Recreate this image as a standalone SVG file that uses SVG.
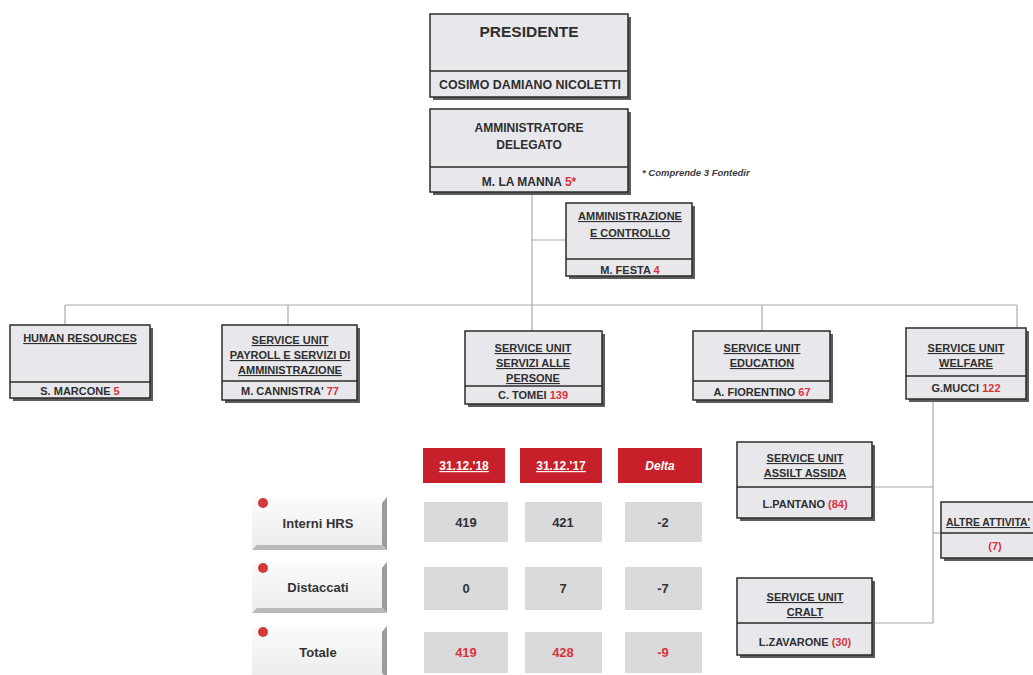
<svg xmlns="http://www.w3.org/2000/svg" width="1033" height="675" viewBox="0 0 1033 675">
<defs>
<style>
.bg{fill:#ffffff}
.sh{fill:#5c5c5c}
.box{fill:#e8e8ec;stroke:#2b2b2b;stroke-width:1.5}
.dv{stroke:#2b2b2b;stroke-width:1.3;fill:none}
.t{font-family:"Liberation Sans",Arial,sans-serif;font-weight:bold;font-size:11px;fill:#2e2e2e;text-anchor:middle}
.u{text-decoration:underline}
.conn{stroke:#a9a9a9;stroke-width:1.2;fill:none}
.hd{fill:#c8202b}
.ht{font-family:"Liberation Sans",Arial,sans-serif;font-weight:bold;font-size:12px;fill:#ffffff;text-anchor:middle}
.cell{fill:#dadadd}
.num{font-family:"Liberation Sans",Arial,sans-serif;font-weight:bold;font-size:13px;fill:#333333;text-anchor:middle}
.face{fill:url(#btn)}
.bvr{fill:#9c9c9c}
.bvb{fill:#b9b9b9}
.bl{font-family:"Liberation Sans",Arial,sans-serif;font-weight:bold;font-size:13px;fill:#333333;text-anchor:middle}
.dot{fill:#d23a3a}
.r{fill:#d8323c}
</style>
<linearGradient id="btn" x1="0" y1="0" x2="0" y2="1">
<stop offset="0" stop-color="#fbfbfb"/>
<stop offset="1" stop-color="#ececec"/>
</linearGradient>
</defs>
<rect class="bg" x="0" y="0" width="1033" height="675"/>

<g id="connectors">
<path class="conn" d="M532 192 V331"/>
<path class="conn" d="M532 240 H566"/>
<path class="conn" d="M65 305 H1017"/>
<path class="conn" d="M65 305 V325"/>
<path class="conn" d="M288 305 V325"/>
<path class="conn" d="M762 305 V331"/>
<path class="conn" d="M1017 305 V328"/>
<path class="conn" d="M933 400 V623"/>
<path class="conn" d="M875 487 H933"/>
<path class="conn" d="M933 533 H941"/>
<path class="conn" d="M875 623 H933"/>
</g>

<g id="presidente">
<rect class="sh" x="433" y="17" width="198" height="83"/>
<rect class="box" x="430" y="14" width="198" height="83"/>
<path class="dv" d="M430 71 H628"/>
<text class="t" x="529" y="37" style="font-size:15.5px">PRESIDENTE</text>
<text class="t" x="530" y="89" style="font-size:12px" textLength="182" lengthAdjust="spacingAndGlyphs">COSIMO DAMIANO NICOLETTI</text>
</g>

<g id="amministratore-delegato">
<rect class="sh" x="433" y="112" width="198" height="83"/>
<rect class="box" x="430" y="109" width="198" height="83"/>
<path class="dv" d="M430 167 H628"/>
<text class="t" x="529" y="132" style="font-size:12px">AMMINISTRATORE</text>
<text class="t" x="529" y="149" style="font-size:12px">DELEGATO</text>
<text class="t" x="529" y="186" style="font-size:12px">M. LA MANNA <tspan class="r">5*</tspan></text>
</g>

<g id="nota">
<text x="642" y="176" style="font-family:'Liberation Sans',Arial,sans-serif;font-style:italic;font-weight:bold;font-size:9.5px;fill:#3a3a3a">* Comprende 3 Fontedir</text>
</g>

<g id="amministrazione-controllo">
<rect class="sh" x="569" y="206" width="126" height="73"/>
<rect class="box" x="566" y="203" width="126" height="73"/>
<path class="dv" d="M566 259 H692"/>
<text class="t u" x="630" y="220">AMMINISTRAZIONE</text>
<text class="t u" x="630" y="237">E CONTROLLO</text>
<text class="t" x="630" y="274">M. FESTA  <tspan class="r">4</tspan></text>
</g>

<g id="human-resources">
<rect class="sh" x="13" y="328" width="140" height="73"/>
<rect class="box" x="10" y="325" width="140" height="73"/>
<path class="dv" d="M10 382 H150"/>
<text class="t u" x="80" y="342">HUMAN RESOURCES</text>
<text class="t" x="80" y="395">S. MARCONE  <tspan class="r">5</tspan></text>
</g>

<g id="payroll">
<rect class="sh" x="225" y="328" width="135" height="75"/>
<rect class="box" x="222" y="325" width="135" height="75"/>
<path class="dv" d="M222 381 H357"/>
<text class="t u" x="290" y="344">SERVICE UNIT</text>
<text class="t u" x="290" y="359">PAYROLL E SERVIZI DI</text>
<text class="t u" x="290" y="374">AMMINISTRAZIONE</text>
<text class="t" x="290" y="395">M. CANNISTRA'  <tspan class="r">77</tspan></text>
</g>

<g id="servizi-persone">
<rect class="sh" x="468" y="334" width="137" height="73"/>
<rect class="box" x="465" y="331" width="137" height="73"/>
<path class="dv" d="M465 386 H602"/>
<text class="t u" x="533" y="352">SERVICE UNIT</text>
<text class="t u" x="533" y="367">SERVIZI ALLE</text>
<text class="t u" x="533" y="382">PERSONE</text>
<text class="t" x="533" y="399">C. TOMEI <tspan class="r">139</tspan></text>
</g>

<g id="education">
<rect class="sh" x="696" y="334" width="137" height="69"/>
<rect class="box" x="693" y="331" width="137" height="69"/>
<path class="dv" d="M693 381 H830"/>
<text class="t u" x="762" y="352">SERVICE UNIT</text>
<text class="t u" x="762" y="367">EDUCATION</text>
<text class="t" x="762" y="396">A. FIORENTINO <tspan class="r">67</tspan></text>
</g>

<g id="welfare">
<rect class="sh" x="909" y="331" width="120" height="71"/>
<rect class="box" x="906" y="328" width="120" height="71"/>
<path class="dv" d="M906 376 H1026"/>
<text class="t u" x="966" y="352">SERVICE UNIT</text>
<text class="t u" x="966" y="367">WELFARE</text>
<text class="t" x="966" y="392">G.MUCCI <tspan class="r">122</tspan></text>
</g>

<g id="assilt-assida">
<rect class="sh" x="740" y="445" width="135" height="76"/>
<rect class="box" x="737" y="442" width="135" height="76"/>
<path class="dv" d="M737 487 H872"/>
<text class="t u" x="805" y="462">SERVICE UNIT</text>
<text class="t u" x="805" y="477">ASSILT ASSIDA</text>
<text class="t" x="805" y="508">L.PANTANO <tspan class="r">(84)</tspan></text>
</g>

<g id="altre-attivita">
<rect class="sh" x="944" y="505" width="110" height="56"/>
<rect class="box" x="941" y="502" width="110" height="56"/>
<path class="dv" d="M941 533 H1051"/>
<text class="t u" x="946" y="526" style="text-anchor:start;font-size:10.5px" textLength="84" lengthAdjust="spacingAndGlyphs">ALTRE ATTIVITA'</text>
<text class="t r" x="995" y="550">(7)</text>
</g>

<g id="cralt">
<rect class="sh" x="740" y="581" width="135" height="77"/>
<rect class="box" x="737" y="578" width="135" height="77"/>
<path class="dv" d="M737 623 H872"/>
<text class="t u" x="805" y="601">SERVICE UNIT</text>
<text class="t u" x="805" y="616">CRALT</text>
<text class="t" x="805" y="646">L.ZAVARONE <tspan class="r">(30)</tspan></text>
</g>

<g id="tabella-header">
<rect class="hd" x="423" y="448" width="82" height="35"/>
<rect class="hd" x="520" y="448" width="82" height="35"/>
<rect class="hd" x="618" y="448" width="84" height="35"/>
<text class="ht u" x="464" y="470">31.12.'18</text>
<text class="ht u" x="561" y="470">31.12.'17</text>
<text class="ht" x="660" y="470" style="font-style:italic">Delta</text>
</g>

<g id="riga-interni">
<rect class="face" x="252" y="497" width="135" height="53"/>
<polygon class="bvr" points="382,503 387,497 387,550 382,545"/>
<polygon class="bvb" points="252,550 257,545 382,545 387,550"/>
<circle class="dot" cx="263" cy="503" r="5"/>
<text class="bl" x="318" y="528">Interni HRS</text>
<rect class="cell" x="424" y="502" width="84" height="40"/>
<rect class="cell" x="525" y="502" width="77" height="40"/>
<rect class="cell" x="625" y="502" width="77" height="40"/>
<text class="num" x="466" y="527">419</text>
<text class="num" x="563" y="527">421</text>
<text class="num" x="663" y="527">-2</text>
</g>

<g id="riga-distaccati">
<rect class="face" x="252" y="562" width="135" height="51"/>
<polygon class="bvr" points="382,568 387,562 387,613 382,608"/>
<polygon class="bvb" points="252,613 257,608 382,608 387,613"/>
<circle class="dot" cx="263" cy="568" r="5"/>
<text class="bl" x="318" y="592">Distaccati</text>
<rect class="cell" x="424" y="567" width="84" height="43"/>
<rect class="cell" x="525" y="567" width="77" height="43"/>
<rect class="cell" x="625" y="567" width="77" height="43"/>
<text class="num" x="466" y="593">0</text>
<text class="num" x="563" y="593">7</text>
<text class="num" x="663" y="593">-7</text>
</g>

<g id="riga-totale">
<rect class="face" x="252" y="626" width="135" height="52"/>
<polygon class="bvr" points="382,632 387,626 387,678 382,673"/>
<circle class="dot" cx="263" cy="632" r="5"/>
<text class="bl" x="318" y="657">Totale</text>
<rect class="cell" x="424" y="632" width="84" height="41"/>
<rect class="cell" x="525" y="632" width="77" height="41"/>
<rect class="cell" x="625" y="632" width="77" height="41"/>
<text class="num r" x="466" y="657">419</text>
<text class="num r" x="563" y="657">428</text>
<text class="num r" x="663" y="657">-9</text>
</g>
</svg>
